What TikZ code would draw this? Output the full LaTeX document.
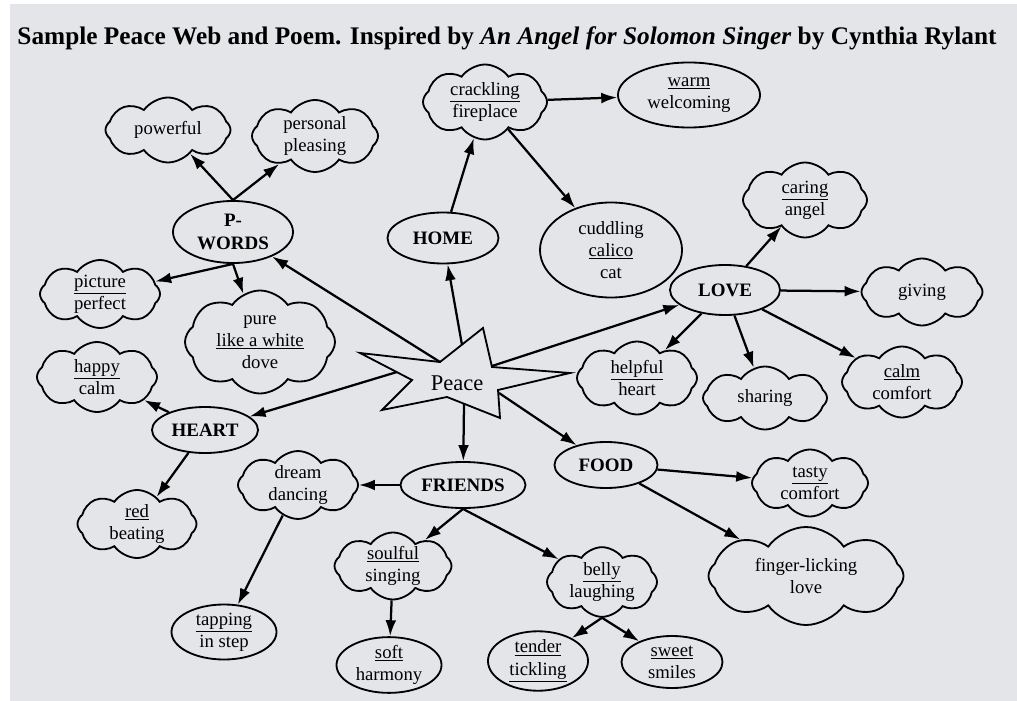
\documentclass[tikz,border=0pt]{standalone}
\usepackage{fontspec}
\setmainfont{Liberation Serif}
\usepackage{tikz}
\usetikzlibrary{arrows.meta,shapes.geometric,shapes.symbols}
\definecolor{paper}{RGB}{228,229,232}

\begin{document}
\begin{tikzpicture}[x=0.025cm,y=-0.025cm,line width=1.3pt,
   idea/.style={ellipse,draw,align=center,inner sep=0pt,font=\fontsize{13.3}{15.8}\selectfont},
   topic/.style={idea,font=\fontsize{13.5}{16}\selectfont\bfseries},
   puff/.style={cloud,draw,cloud puffs=8,cloud puff arc=110,cloud ignores aspect,align=center,inner sep=0pt,font=\fontsize{13.3}{15.8}\selectfont},
   link/.style={-{Latex[length=4mm,width=2.7mm]},line width=1.6pt}]
   \fill[white] (0,0) rectangle (1017,701);
   \fill[paper] (10,4) rectangle (1017,701);
   \useasboundingbox (0,0) rectangle (1017,701);

   \node[anchor=base,font=\fontsize{18}{22}\selectfont\bfseries] (title) at (507,45)
      {Sample Peace Web and Poem. Inspired by \textit{An Angel for Solomon Singer} by Cynthia Rylant};

   % the star in the middle
   \draw[fill=paper] (360,353) -- (440,362) -- (483,328) -- (492,367) -- (570,373) -- (498,390)
      -- (500,418) -- (447,397) -- (382,410) -- (412,380) -- cycle;
   \node[font=\fontsize{16}{19}\selectfont] (peace) at (457,383) {Peace};
   \coordinate (pA) at (440,362);
   \coordinate (pB) at (462,345);
   \coordinate (pC) at (492,366);
   \coordinate (pD) at (397,372);
   \coordinate (pE) at (464,404);
   \coordinate (pF) at (499,393);

   % P-WORDS
   \node[topic,minimum width=3cm,minimum height=1.55cm] (pwords) at (233,232) {P-\\WORDS};
   \node[puff,minimum width=3.125cm,minimum height=1.625cm] (powerful) at (168,130) {powerful};
   \node[puff,minimum width=3.15cm,minimum height=1.8cm] (pleasing) at (315,136) {personal\\pleasing};
   \node[puff,minimum width=3cm,minimum height=1.7cm] (picture) at (100,294) {\underline{picture}\\perfect};
   \node[puff,minimum width=3.75cm,minimum height=2.575cm] (pure) at (260,342) {pure\\\underline{like a white}\\dove};

   % HEART
   \node[topic,minimum width=2.65cm,minimum height=1.15cm] (heart) at (205,430) {HEART};
   \node[puff,minimum width=3cm,minimum height=1.75cm] (happy) at (97,377) {\underline{happy}\\calm};
   \node[puff,minimum width=2.975cm,minimum height=1.7cm] (red) at (137,524) {\underline{red}\\beating};

   % FRIENDS
   \node[topic,minimum width=3.125cm,minimum height=1.15cm] (friends) at (463,485) {FRIENDS};
   \node[puff,minimum width=3cm,minimum height=1.65cm] (dream) at (298,485) {dream\\dancing};
   \node[idea,minimum width=2.625cm,minimum height=1.375cm] (tapping) at (224,632) {\underline{tapping}\\in step};
   \node[puff,minimum width=2.925cm,minimum height=1.625cm] (soulful) at (393,566) {\underline{soulful}\\singing};
   \node[idea,minimum width=2.625cm,minimum height=1.35cm] (soft) at (389,665) {\underline{soft}\\harmony};
   \node[puff,minimum width=2.75cm,minimum height=1.575cm] (belly) at (602,582) {\underline{belly}\\laughing};
   \node[idea,minimum width=2.5cm,minimum height=1.325cm] (tender) at (538,661) {\underline{tender}\\\underline{tickling}};
   \node[idea,minimum width=2.525cm,minimum height=1.3cm] (sweet) at (672,662) {\underline{sweet}\\smiles};

   % FOOD
   \node[topic,minimum width=2.575cm,minimum height=1.15cm] (food) at (606,465) {FOOD};
   \node[puff,minimum width=2.9cm,minimum height=1.675cm] (tasty) at (810,483) {\underline{tasty}\\comfort};
   \node[puff,minimum width=4.875cm,minimum height=2.45cm] (finger) at (806,576) {finger-licking\\love};

   % HOME
   \node[topic,minimum width=2.775cm,minimum height=1.275cm] (home) at (443,238) {HOME};
   \node[puff,minimum width=3.1cm,minimum height=1.875cm] (crackling) at (485,102) {\underline{crackling}\\fireplace};
   \node[idea,minimum width=3.55cm,minimum height=1.625cm] (warm) at (689,95) {\underline{warm}\\welcoming};
   \node[idea,minimum width=3.55cm,minimum height=2.375cm] (cuddling) at (611,250) {cuddling\\\underline{calico}\\cat};

   % LOVE
   \node[topic,minimum width=2.75cm,minimum height=1.25cm] (love) at (725,290) {LOVE};
   \node[puff,minimum width=3.1cm,minimum height=1.875cm] (caring) at (805,200) {\underline{caring}\\angel};
   \node[puff,minimum width=3.025cm,minimum height=1.675cm] (giving) at (922,292) {giving};
   \node[puff,minimum width=3cm,minimum height=1.775cm] (calm) at (902,382) {\underline{calm}\\comfort};
   \node[puff,minimum width=3.1cm,minimum height=1.575cm] (sharing) at (765,398) {sharing};
   \node[puff,minimum width=3cm,minimum height=1.825cm] (helpful) at (637,378) {\underline{helpful}\\heart};

   \path[link]
    (pA) edge (pwords)
    (pB) edge (home)
    (pC) edge (love)
    (pD) edge (heart)
    (pE) edge (friends)
    (pF) edge (food)
    (pwords.north) edge (powerful)
    (pwords.north) edge (pleasing)
    (pwords.south) edge (picture)
    (pwords.south) edge (pure)
    (heart) edge (happy)
    (heart) edge (red)
    (friends) edge (dream)
    (friends.south) edge (soulful)
    (friends.south) edge (belly)
    (dream) edge (tapping)
    (soulful) edge (soft)
    (belly.south) edge (tender)
    (belly.south) edge (sweet)
    (food) edge (tasty)
    (food) edge (finger)
    (home) edge (crackling)
    (crackling) edge (warm)
    (crackling) edge (cuddling)
    (love) edge (caring)
    (love) edge (giving)
    (love) edge (calm)
    (love) edge (sharing)
    (love) edge (helpful);
\end{tikzpicture}
\end{document}
